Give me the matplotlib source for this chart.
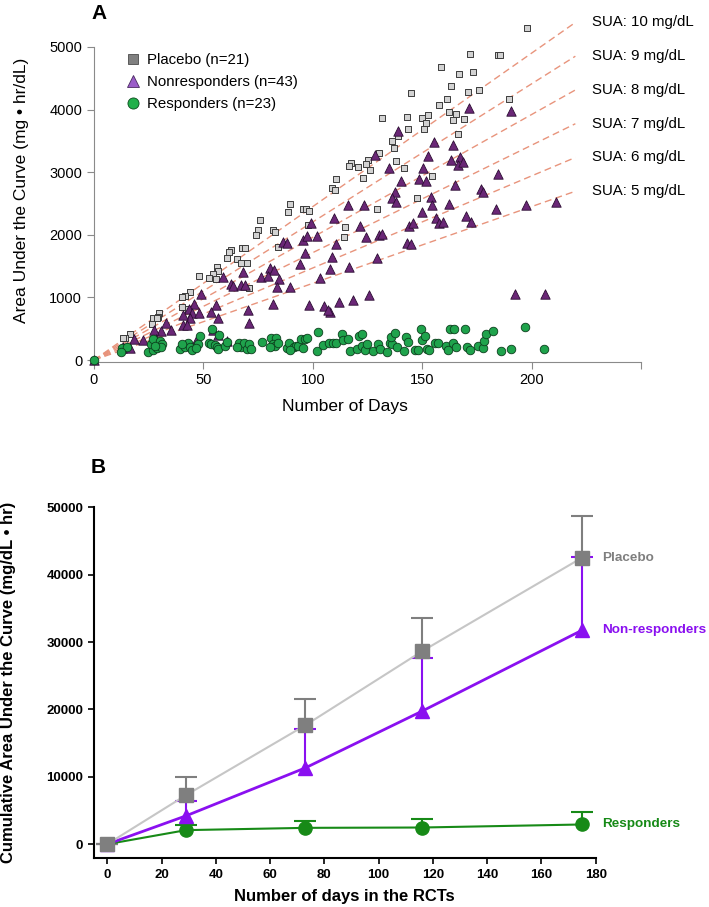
import matplotlib
matplotlib.use("Agg")
import matplotlib.pyplot as plt
from matplotlib.lines import Line2D

plt.rcParams["font.family"] = ["Liberation Sans", "DejaVu Sans"]

# ---- Panel A: individual AUC vs days ----
placebo_days = [198, 172, 184.6, 185.7, 158.4, 167, 173.2, 144.7, 163.2, 170.9, 175.8, 161.5, 157.5,
                189.5, 131.4, 142.9, 149.8, 152.5, 151.6, 162.4, 165.4, 164.1, 169.1, 143.7, 150.7,
                139, 166.4, 136.2, 137, 130.3, 125.3, 124.2, 120.7, 117.4, 116.6, 126.3, 123.1, 138,
                141.9, 154.7, 110.8, 109, 110, 147.8, 129.2, 114.6, 114.2, 89.5, 88.7, 95.6, 97.1,
                98.3, 97.6, 75.9, 75, 74, 81.9, 82.5, 83.9, 62.7, 61.5, 60.6, 67.6, 69.1, 65.2, 67.1,
                69.7, 70.9, 56, 56.8, 54.5, 52.7, 55.6, 48.1, 43.7, 41.6, 40.3, 40, 43.1, 29.8, 29.4,
                27.1, 28.6, 26.3, 16.3, 14.2, 13.4, 0]
placebo_auc = [5307, 4891, 4870, 4870, 4677, 4571, 4592, 4261, 4368, 4272, 4304, 4160, 4075,
               4160, 3867, 3888, 3872, 3920, 3787, 3957, 3931, 3840, 3851, 3685, 3696,
               3573, 3605, 3499, 3381, 3307, 3195, 3125, 3088, 3141, 3104, 3035, 2912, 3179,
               3072, 2933, 2891, 2747, 2709, 2592, 2407, 2120, 1970, 2496, 2368, 2411, 2411,
               2373, 2149, 2229, 2075, 1995, 2080, 2048, 1803, 1760, 1723, 1637, 1787, 1787, 1611, 1547,
               1547, 1157, 1493, 1424, 1371, 1307, 1291, 1349, 1088, 1024, 1013, 853, 821, 747, 693,
               677, 672, 571, 411, 357, 347, 0]

nonresp_days = [171.2, 190.6, 139, 155.6, 164.2, 128.5, 152.5, 135, 150.5, 163.2, 167.3, 166.2, 168.8,
                184.8, 140.2, 148.7, 151.7, 165.2, 176.7, 177.6, 137.4, 136.4, 138.2, 153.9, 154.5,
                116, 123.4, 162.4, 183.6, 197.3, 211, 149.9, 109.6, 156.5, 157.5, 159.7, 170.2, 172.3,
                121.8, 144, 145.8, 124.1, 130.1, 131.4, 110.8, 142.9, 145, 109, 129.5, 108, 116.6,
                111.9, 118.4, 125.6, 192.4, 205.9, 107.8, 99.4, 86.4, 88.4, 95.6, 97.4, 102.1, 96.3,
                94.2, 103.2, 80.5, 82.3, 68.3, 76.1, 79.5, 84.6, 83.7, 89.5, 58.8, 62.4, 63.3, 67.1,
                68.9, 48.7, 81.9, 98.2, 105.2, 107, 45.8, 43.4, 44.9, 55.7, 53.3, 56.6, 70.2, 47.9,
                43.8, 40.8, 40.5, 42.3, 70.9, 54.5, 56.9, 60.6, 32.9, 30.6, 35.2, 27.4, 28.3, 46.9,
                22.2, 18.4, 13.4, 14.9, 16.4, 12.6, 0]
nonresp_auc = [4027, 3973, 3664, 3483, 3435, 3269, 3259, 3072, 3072, 3189, 3237, 3120, 3157,
               2971, 2864, 2885, 2864, 2800, 2736, 2677, 2677, 2587, 2517, 2597, 2469,
               2469, 2469, 2491, 2411, 2469, 2517, 2363, 2272, 2272, 2187, 2208, 2293, 2197,
               2144, 2144, 2187, 1968, 1995, 2011, 1851, 1867, 1851, 1643, 1637, 1451, 1493,
               933, 955, 1040, 1056, 1061, 773, 2187, 1877, 1861, 1920, 1979, 1979, 1707,
               1536, 1317, 1477, 1440, 1403, 1323, 1344, 1291, 1163, 1163, 1323, 1216, 1189, 1200,
               1200, 1056, 896, 875, 864, 800, 896, 811, 747, 880, 763, 677, 800, 747,
               667, 715, 565, 565, 587, 480, 400, 309, 587, 464, 480, 480, 336, 336,
               320, 336, 213, 203, 197, 187, 0]

resp_days = [24.5, 26.8, 28.6, 26, 27.1, 30.1, 31.2, 30.5, 27.9, 12.6, 14.9, 12.2,
             39.3, 41.6, 42.8, 43.8, 44.6, 40, 48.4, 47.6, 46.6, 52.5, 53.7, 55.4, 56.2, 56.6,
             59.8, 60.6, 54, 57.2, 66.3, 67.4, 68.5, 69.7, 70.9, 71.7, 65.2, 76.6, 81.1, 83.1,
             81.6, 82.6, 84.2, 80.4, 88, 89, 91.3, 92.1, 93.3, 94.4, 96.3, 97.4, 95.6, 89.5,
             102.4, 101.7, 104.7, 107.4, 109.3, 110.5, 113.4, 113.8, 116.1, 117.2, 120, 121.1,
             122.5, 122.5, 123.7, 124.8, 127.5, 129.8, 130.9, 133.9, 135.2, 136.4, 135.6, 137.4,
             138.7, 141.6, 142.5, 143.5, 146.9, 148.1, 149.3, 150.1, 151.5, 152.2, 153.1, 156,
             157.2, 161, 161.8, 162.9, 164.7, 164.1, 165.6, 169.4, 170.5, 171.7, 175.5, 177.8,
             178.2, 179.3, 182.3, 186.2, 190.7, 196.8, 205.5, 0]
resp_auc = [123, 160, 197, 256, 336, 304, 251, 213, 224, 187, 213, 133,
            171, 213, 277, 213, 160, 256, 389, 256, 197, 267, 256, 240, 213, 181,
            224, 293, 491, 400, 277, 213, 267, 181, 256, 181, 213, 293, 347, 357,
            256, 224, 267, 213, 187, 267, 203, 229, 224, 331, 331, 347, 187, 160,
            443, 149, 235, 267, 277, 267, 411, 320, 336, 139, 176, 389,
            411, 229, 165, 256, 149, 256, 171, 128, 267, 256, 373, 437,
            208, 149, 373, 283, 160, 155, 491, 320, 389, 181, 165, 272,
            272, 229, 165, 491, 501, 267, 208, 501, 208, 165, 229, 197,
            309, 416, 469, 149, 171, 523, 171, 0]

sua_levels = [10, 9, 8, 7, 6, 5]
sua_line_end = 220
auc_per_day_per_sua = 2.45

# ---- Panel B: cumulative AUC means ----
rct_days = [0, 29, 73, 116, 175]
pb_mean = [0, 7270, 17650, 28630, 42530]
pb_upper = [0, 10040, 21610, 33500, 48780]
nr_mean = [0, 4200, 11320, 19740, 31760]
nr_upper = [0, 6380, 17070, 27700, 42550]
rs_mean = [0, 2080, 2420, 2470, 2920]
rs_upper = [0, 2820, 3410, 3760, 4750]

W, H = 709, 907
fig = plt.figure(figsize=(W / 100, H / 100), dpi=100)


def box(l, r, t, b):
    return [l / W, 1 - b / H, (r - l) / W, (b - t) / H]


# ── Panel A ──
ax = fig.add_axes(box(94, 641, 18.7, 361.6))
ax.set_xlim(0, 250)
ax.set_ylim(-25, 5450)

for s in sua_levels:
    xs = [0, sua_line_end]
    ys = [0, s * auc_per_day_per_sua * sua_line_end]
    ax.plot(xs, ys, color="#e8947c", lw=1.0, dashes=(5, 3), zorder=1)
    ax.text(sua_line_end + 7.5, ys[1], f"SUA: {s} mg/dL", fontsize=10.8, va="center", ha="left")

ax.scatter(placebo_days, placebo_auc, marker="s", s=20, facecolor="#d2d2d2", edgecolor="#3c3c3c",
           linewidth=0.7, zorder=3, clip_on=False)
ax.scatter(nonresp_days, nonresp_auc, marker="^", s=46, facecolor="#6a2776", edgecolor="#2c0d33",
           linewidth=0.6, zorder=4, clip_on=False)
ax.scatter(resp_days, resp_auc, marker="o", s=38, facecolor="#1fa34c", edgecolor="#0c3f1d",
           linewidth=0.6, zorder=5, clip_on=False)

handles = [
    Line2D([], [], ls="", marker="s", ms=7, mfc="#808080", mec="#4a4a4a", mew=0.6),
    Line2D([], [], ls="", marker="^", ms=8, mfc="#9a5cc8", mec="#4a2a60", mew=0.6),
    Line2D([], [], ls="", marker="o", ms=8, mfc="#22b04b", mec="#0c4a1d", mew=0.6),
]
ax.legend(handles, ["Placebo (n=21)", "Nonresponders (n=43)", "Responders (n=23)"],
          loc="upper left", bbox_to_anchor=(0.058, 0.9), frameon=False, fontsize=10.8,
          handlelength=1.0, handletextpad=0.45, labelspacing=0.55, borderpad=0, borderaxespad=0)

for side in ["top", "right"]:
    ax.spines[side].set_visible(False)
for side in ["left", "bottom"]:
    ax.spines[side].set_color("#8a8a8a")
ax.spines["left"].set_bounds(0, 5000)
ax.spines["bottom"].set_bounds(0, 250)
ax.set_yticks([0, 1000, 2000, 3000, 4000, 5000])
ax.set_xticks([0, 50, 100, 150, 200, 250])
ax.set_xticklabels(["0", "50", "100", "150", "200", ""])
ax.tick_params(colors="#8a8a8a", labelcolor="black", labelsize=10.5, length=5)
ax.set_xlabel("Number of Days", fontsize=12.5)
ax.xaxis.set_label_coords((345 - 94) / 547, -(407 - 361.6) / 342.9)
ax.xaxis.label.set_va("center")
ax.set_ylabel("Area Under the Curve (mg • hr/dL)", fontsize=12.5, va="center")
ax.yaxis.set_label_coords((22 - 94) / 547, 0.5)
fig.text(91 / W, 1 - 19 / H, "A", fontsize=15, fontweight="bold", va="baseline")

# ── Panel B ──
bx = fig.add_axes(box(93.7, 595.7, 507.3, 858.3))
bx.set_xlim(-5, 180)
bx.set_ylim(-2100, 50000)

groups = [
    (rs_mean, rs_upper, "o", "#178a17", "#178a17", 1.5, "Responders"),
    (nr_mean, nr_upper, "^", "#8a10f0", "#8a10f0", 2.0, "Non-responders"),
    (pb_mean, pb_upper, "s", "#7f7f7f", "#c6c6c6", 1.5, "Placebo"),
]
for mean, upper, mk, col, lcol, lw, name in groups:
    err = [u - m for u, m in zip(upper, mean)]
    _, caps, _ = bx.errorbar(rct_days, mean, yerr=[[0] * len(mean), err], fmt="none", ecolor=col,
                             elinewidth=1.5, capsize=8, capthick=1.5, clip_on=False)
    caps[0].set_visible(False)  # only the upper caps
    bx.plot(rct_days, mean, color=lcol, lw=lw, zorder=3)
    bx.plot(rct_days, mean, ls="", marker=mk, ms=9.5, color=col, zorder=4, clip_on=False)
    bx.text(rct_days[-1] + 7.5, mean[-1], name, color=col, fontsize=9.7, fontweight="bold",
            va="center", ha="left")

for side in ["top", "right"]:
    bx.spines[side].set_visible(False)
for side in ["left", "bottom"]:
    bx.spines[side].set_linewidth(1.5)
bx.spines["left"].set_bounds(-2100, 50000)
bx.set_yticks([0, 10000, 20000, 30000, 40000, 50000])
bx.set_xticks(range(0, 181, 20))
bx.tick_params(width=1.2, length=4, labelsize=9.5)
for lab in bx.get_xticklabels() + bx.get_yticklabels():
    lab.set_fontweight("bold")
bx.set_xlabel("Number of days in the RCTs", fontsize=12, fontweight="bold")
bx.xaxis.set_label_coords(0.5, -(897 - 858.3) / 351)
bx.xaxis.label.set_va("center")
bx.set_ylabel("Cumulative Area Under the Curve (mg/dL • hr)", fontsize=12, fontweight="bold",
              va="center")
bx.yaxis.set_label_coords((8.5 - 93.7) / 502, (858.3 - 682) / 351)
fig.text(91 / W, 1 - 473 / H, "B", fontsize=15, fontweight="bold", va="baseline")

fig.savefig("out.png", dpi=100)
